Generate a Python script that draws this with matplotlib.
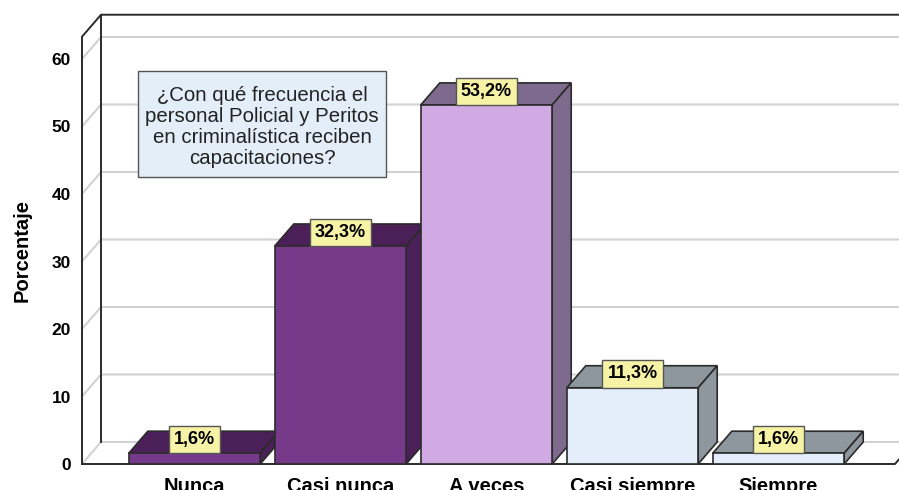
import matplotlib.pyplot as plt
from matplotlib.patches import Polygon, Rectangle

# datos del grafico
categorias = ["Nunca", "Casi nunca", "A veces", "Casi siempre", "Siempre"]
porcentajes = [1.6, 32.3, 53.2, 11.3, 1.6]
etiquetas = ["1,6%", "32,3%", "53,2%", "11,3%", "1,6%"]
frente = ["#773a8b", "#773a8b", "#d1a9e3", "#e3eefa", "#e3eefa"]
sombra = ["#4b2058", "#4b2058", "#7e6a8d", "#8e969e", "#8e969e"]
yticks = [0, 10, 20, 30, 40, 50, 60]
titulo = "¿Con qué frecuencia el\npersonal Policial y Peritos\nen criminalística reciben\ncapacitaciones?"

W, H = 899, 490
fig = plt.figure(figsize=(W / 100, H / 100), dpi=100)

# plano frontal del grafico (en pixeles de la imagen)
x0, x1, y0 = 82, 895, 464
px_u = 146.0      # pixeles por categoria
px_v = 6.75       # pixeles por punto porcentual
ymax = 63.3
ax = fig.add_axes([x0 / W, (H - y0) / H, (x1 - x0) / W, ymax * px_v / H])
xl, xr = (x0 - 194.5) / px_u, (x1 - 194.5) / px_u
ax.set_xlim(xl, xr)
ax.set_ylim(0, ymax)
for s in ax.spines.values():
    s.set_visible(False)

dx = 19 / px_u
dy = 22 / px_v
oscuro = "#2b2b2b"
gris = "#d2d2d2"

# paredes y rejilla
for v in yticks:
    ax.plot([xl, xl + dx, xr + 2 * dx], [v, v + dy, v + dy], color=gris, lw=1.5,
            clip_on=False, zorder=1)
ax.plot([xl, xl, xl + dx, xr + 2 * dx], [0, ymax, ymax + dy, ymax + dy], color=oscuro,
        lw=1.4, clip_on=False, zorder=2)
ax.plot([xl + dx, xl + dx], [dy, ymax + dy], color=oscuro, lw=1.4, clip_on=False, zorder=2)
ax.plot([xl, xr, xr + dx], [0, 0, dy], color=oscuro, lw=1.4, clip_on=False, zorder=2)

# barras 3D
w = 0.9
xs = list(range(len(categorias)))
ax.bar(xs, porcentajes, width=w, color=frente, edgecolor=oscuro, lw=1.2, zorder=5)
for x, v, fc in zip(xs, porcentajes, sombra):
    a, b = x - w / 2, x + w / 2
    ax.add_patch(Polygon([(a, v), (b, v), (b + dx, v + dy), (a + dx, v + dy)],
                         closed=True, fc=fc, ec=oscuro, lw=1.2, zorder=4))
    ax.add_patch(Polygon([(b, 0), (b + dx, dy), (b + dx, v + dy), (b, v)],
                         closed=True, fc=fc, ec=oscuro, lw=1.2, zorder=4))

for x, v, t in zip(xs, porcentajes, etiquetas):
    ax.annotate(t, (x, v), xytext=(0, 3.8), textcoords="offset points",
                ha="center", va="bottom", fontsize=13, fontweight="bold",
                family="Liberation Sans", zorder=7,
                bbox=dict(boxstyle="square,pad=0.28", fc="#f7f3a6", ec="#555555", lw=1))

# ejes
ax.set_yticks(yticks)
ax.set_yticklabels([str(t) for t in yticks], fontsize=12.5, fontweight="bold",
                   family="Liberation Sans")
ax.set_xticks(xs)
ax.set_xticklabels(categorias, fontsize=14.5, fontweight="bold", family="Liberation Sans")
ax.tick_params(axis="y", length=0, pad=8)
ax.tick_params(axis="x", length=0, pad=9.5)
ax.set_ylabel("Porcentaje", fontsize=14.5, fontweight="bold", family="Liberation Sans",
              labelpad=14)

# cuadro del titulo
fig.patches.append(Rectangle((138 / W, (H - 177) / H), 248 / W, 106 / H,
                             transform=fig.transFigure, fc="#e3eef9", ec="#555555",
                             lw=1, zorder=8))
fig.text(262 / W, (H - 127) / H, titulo, ha="center", va="center", fontsize=14.7,
         family="Liberation Sans", linespacing=1.12, color="#222222", zorder=9)

fig.savefig("out.png", dpi=100)
